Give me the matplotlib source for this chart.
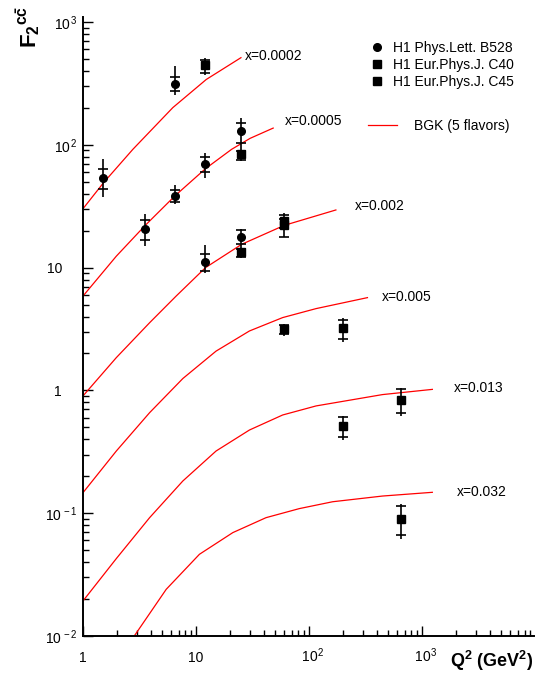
import numpy as np
import matplotlib
matplotlib.use('Agg')
import matplotlib.pyplot as plt
from matplotlib.lines import Line2D
from matplotlib.ticker import FixedLocator, NullFormatter

plt.rcParams['font.family'] = ['Liberation Sans', 'DejaVu Sans']
plt.rcParams['mathtext.fontset'] = 'custom'
plt.rcParams['mathtext.rm'] = 'Liberation Sans'
plt.rcParams['mathtext.it'] = 'Liberation Sans:italic'
plt.rcParams['mathtext.bf'] = 'Liberation Sans:bold'

# ---------------- data ----------------
# H1 Phys.Lett. B528 (circles)
b528_q2 = [1.5, 6.5, 3.5, 6.5, 12, 25, 12, 25]
b528_f = [53.7, 316, 20.8, 38.3, 70.4, 129, 11.1, 17.7]
b528_tot_lo = [37.6, 257, 14.9, 32.7, 53.7, 92.1, 9.02, 14.7]
b528_tot_hi = [77.3, 438, 27.5, 46.8, 85.9, 167, 15.4, 20.5]
b528_stat_lo = [44.0, 274, 16.9, 34.0, 60.1, 104, 9.36, 15.7]
b528_stat_hi = [64.1, 358, 24.6, 42.6, 79.7, 152, 12.8, 20.1]

# H1 Eur.Phys.J. C40 (squares)
c40_q2 = [12, 25, 25, 60]
c40_f = [446, 83.8, 13.4, 23.8]
c40_tot_lo = [370, 73.5, 12.0, 20.5]
c40_tot_hi = [512, 92.1, 14.7, 28.0]
c40_stat_lo = [386, 75.9, 12.3, 21.0]
c40_stat_hi = [490, 89.2, 14.3, 27.0]

# H1 Eur.Phys.J. C45 (squares)
c45_q2 = [60, 60, 200, 200, 650, 650]
c45_f = [22.3, 3.18, 3.21, 0.516, 0.841, 0.0895]
c45_tot_lo = [17.7, 2.80, 2.50, 0.394, 0.622, 0.0622]
c45_tot_hi = [26.0, 3.49, 3.87, 0.622, 1.04, 0.119]
c45_stat_lo = [17.9, 2.89, 2.60, 0.414, 0.650, 0.0663]
c45_stat_hi = [25.0, 3.42, 3.76, 0.611, 1.02, 0.115]

# BGK (5 flavors) curves
bgk_x0002_q2 = [1, 1.52, 2.76, 6.22, 12.3, 24.9]
bgk_x0002_f = [30.2, 49.2, 92, 201, 341, 513]
bgk_x0005_q2 = [1, 1.97, 3.55, 6.57, 12.1, 20.6, 30, 48]
bgk_x0005_f = [5.87, 12.4, 22.1, 38.8, 64.0, 92.0, 113, 137]
bgk_x002_q2 = [1, 1.97, 3.88, 6.66, 12.1, 25.3, 60.1, 172]
bgk_x002_f = [0.902, 1.85, 3.56, 5.87, 10.0, 15.5, 22.1, 29.5]
bgk_x005_q2 = [1, 1.97, 3.88, 7.63, 15.0, 29.6, 58.2, 115, 327]
bgk_x005_f = [0.147, 0.321, 0.659, 1.25, 2.09, 3.05, 3.92, 4.64, 5.70]
bgk_x013_q2 = [1, 1.97, 3.88, 7.63, 15.0, 29.6, 58.2, 115, 444, 1225]
bgk_x013_f = [0.0193, 0.0427, 0.0920, 0.183, 0.321, 0.476, 0.631, 0.748, 0.925, 1.02]
bgk_x032_q2 = [2.86, 5.44, 10.7, 21.1, 41.5, 81.6, 161, 444, 1225]
bgk_x032_f = [0.0101, 0.0240, 0.0463, 0.0695, 0.0920, 0.109, 0.124, 0.138, 0.148]

curve_labels = ['x=0.0002', 'x=0.0005', 'x=0.002', 'x=0.005', 'x=0.013', 'x=0.032']
legend_labels = ['H1 Phys.Lett. B528', 'H1 Eur.Phys.J. C40', 'H1 Eur.Phys.J. C45',
                 'BGK (5 flavors)']

xtick_vals = [1, 10, 100, 1000]
xtick_labels = ['1', '10', r'$\mathregular{\ \ 10^{2}}$', r'$\mathregular{\ \ 10^{3}}$']
ytick_vals = [0.01, 0.1, 1, 10, 100, 1000]
ytick_labels = [r'$\mathregular{10^{\,-2}}$', r'$\mathregular{10^{\,-1}}$',
                '1    ', '10    ',
                r'$\mathregular{10^{\,2}}$', r'$\mathregular{10^{\,3}}$']

# ---------------- figure ----------------
W, H = 535, 688
fig = plt.figure(figsize=(W / 100, H / 100), dpi=100)
ax = fig.add_axes([83 / W, 52 / H, 451 / W, 619 / H])
ax.set_xscale('log')
ax.set_yscale('log')
ax.set_xlim(1, 9700)
ax.set_ylim(0.01, 1100)

for s in ['top', 'right']:
    ax.spines[s].set_visible(False)
for s in ['left', 'bottom']:
    ax.spines[s].set_linewidth(1.4)

curves = [(bgk_x0002_q2, bgk_x0002_f), (bgk_x0005_q2, bgk_x0005_f),
          (bgk_x002_q2, bgk_x002_f), (bgk_x005_q2, bgk_x005_f),
          (bgk_x013_q2, bgk_x013_f), (bgk_x032_q2, bgk_x032_f)]
label_offsets = [(4, 3), (12, 9), (19, 5), (14, 2), (22, 3), (25, 2)]
for (q, f), lab, off in zip(curves, curve_labels, label_offsets):
    ax.plot(q, f, color='red', lw=0.9, solid_joinstyle='round')
    ax.annotate(lab, xy=(q[-1], f[-1]), xytext=off, textcoords='offset pixels',
                ha='left', va='center_baseline', fontsize=10)


def draw_points(q2, f, tlo, thi, slo, shi, marker):
    q2 = np.asarray(q2); f = np.asarray(f)
    ax.vlines(q2, tlo, thi, color='black', lw=1.2, zorder=3)
    ax.plot(q2, slo, ls='none', marker='_', ms=7, mew=1.2, color='black', zorder=3)
    ax.plot(q2, shi, ls='none', marker='_', ms=7, mew=1.2, color='black', zorder=3)
    ax.plot(q2, f, ls='none', marker=marker, ms=5.5, color='black', zorder=4)


draw_points(b528_q2, b528_f, b528_tot_lo, b528_tot_hi, b528_stat_lo, b528_stat_hi, 'o')
draw_points(c40_q2, c40_f, c40_tot_lo, c40_tot_hi, c40_stat_lo, c40_stat_hi, 's')
draw_points(c45_q2, c45_f, c45_tot_lo, c45_tot_hi, c45_stat_lo, c45_stat_hi, 's')

# ticks
ax.xaxis.set_major_locator(FixedLocator(xtick_vals))
ax.set_xticklabels(xtick_labels, fontsize=10)
ax.yaxis.set_major_locator(FixedLocator(ytick_vals))
ax.set_yticklabels(ytick_labels, fontsize=10)
ax.xaxis.set_minor_formatter(NullFormatter())
ax.yaxis.set_minor_formatter(NullFormatter())
ax.tick_params(which='both', direction='in', top=False, right=False, width=1.0)
ax.tick_params(which='major', length=7)
ax.tick_params(which='minor', length=4)
ax.tick_params(axis='x', which='major', pad=18.5)
ax.tick_params(axis='y', which='major', pad=4)
for t in ax.get_xticklabels():
    t.set_va('baseline')
for t in ax.get_yticklabels():
    t.set_va('center_baseline')

# axis titles
fig.text(533 / W, 1 - 667 / H, r'$\mathbf{Q^{2}\ (GeV^{2})}$', ha='right',
         va='baseline', fontsize=13)
fig.text(29 / W, 1 - 27 / H, r'$\mathbf{F_{2}{}^{c\bar{c}}}$', rotation=90,
         ha='center', va='center', fontsize=16)

# legends
h_circ = Line2D([], [], ls='none', marker='o', color='black', ms=5.5)
h_sq = Line2D([], [], ls='none', marker='s', color='black', ms=5.5)
fig.legend([h_circ, h_sq, h_sq], legend_labels[:3], loc='upper left',
           bbox_to_anchor=(370 / W, 1 - 41 / H), frameon=False, fontsize=10,
           handlelength=1.0, handletextpad=0.65, labelspacing=0.2,
           borderpad=0, borderaxespad=0)
h_line = Line2D([], [], color='red', lw=0.9)
fig.legend([h_line], [legend_labels[3]], loc='upper left',
           bbox_to_anchor=(368 / W, 1 - 119 / H), frameon=False, fontsize=10,
           handlelength=2.1, handletextpad=1.2, borderpad=0, borderaxespad=0)

fig.savefig('out.png', dpi=100)
